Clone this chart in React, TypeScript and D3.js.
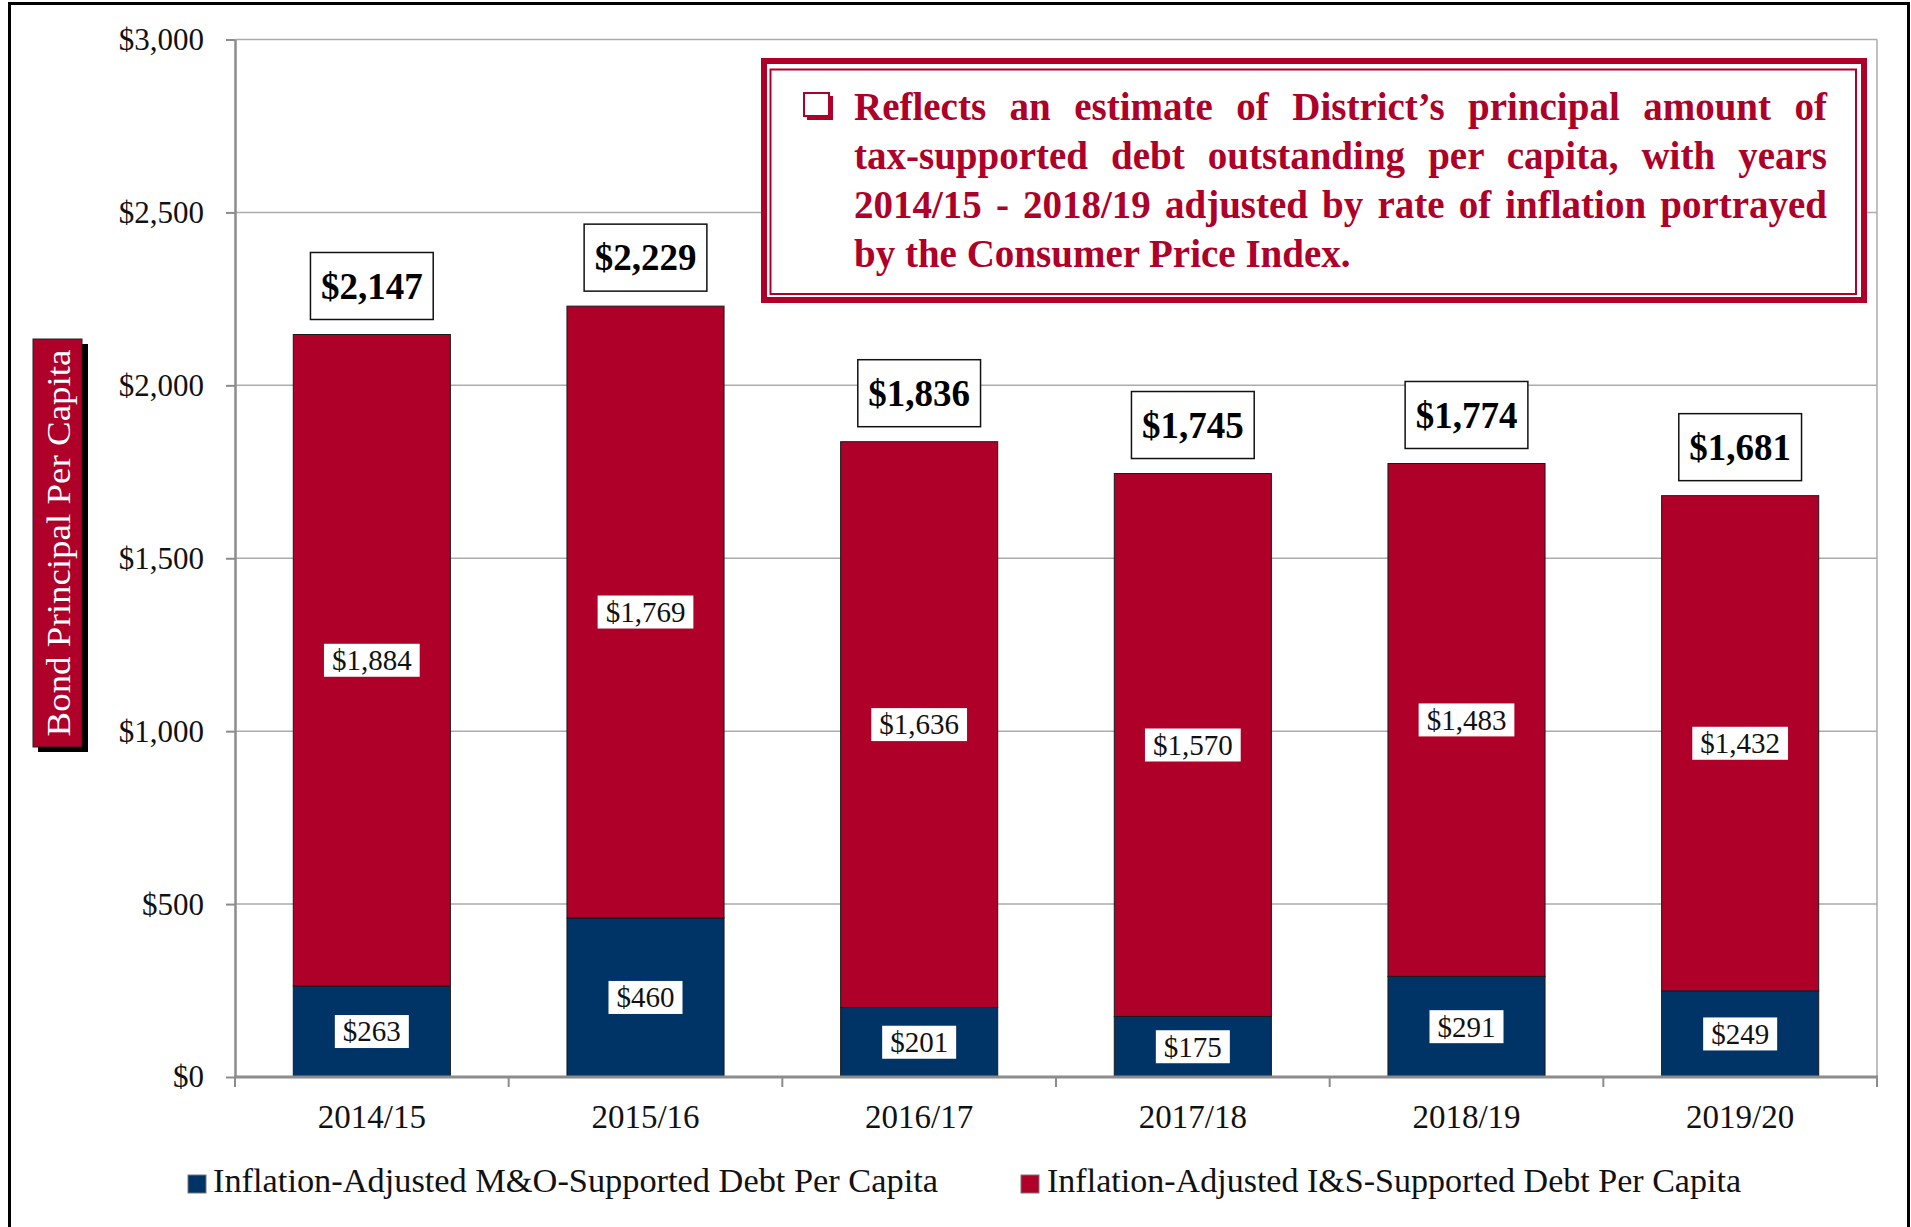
import { useRef, useEffect } from "react";
import { select, scaleBand, scaleLinear, axisLeft, axisBottom, format } from "d3";

const years = ["2014/15", "2015/16", "2016/17", "2017/18", "2018/19", "2019/20"];
const moDebt = [263, 460, 201, 175, 291, 249];
const isDebt = [1884, 1769, 1636, 1570, 1483, 1432];
const totals = [2147, 2229, 1836, 1745, 1774, 1681];
const yTicks = [0, 500, 1000, 1500, 2000, 2500, 3000];
const seriesNames = [
  "Inflation-Adjusted M&O-Supported Debt Per Capita",
  "Inflation-Adjusted I&S-Supported Debt Per Capita",
];
const noteLines = [
  "Reflects an estimate of District\u2019s principal amount of",
  "tax-supported debt outstanding per capita, with years",
  "2014/15 - 2018/19 adjusted by rate of inflation portrayed",
  "by the Consumer Price Index.",
];
const yTitle = "Bond Principal Per Capita";

const W = 1911;
const H = 1227;
const margin = { top: 39.5, right: 34, bottom: 150, left: 235 };
const X0 = margin.left;
const X1 = W - margin.right;
const Y0 = margin.top;
const Y1 = H - margin.bottom;

const RED = "#AE0028";
const NAVY = "#003366";
const AXIS = "#8c8c8c";
const GRID = "#ababab";
const FONT = "'Liberation Serif', 'Times New Roman', serif";

function App() {
  const svgRef = useRef<SVGSVGElement>(null);

  useEffect(() => {
    const svg = select(svgRef.current);
    svg.selectAll("*").remove();

    const x = scaleBand<string>().domain(years).range([X0, X1]).paddingInner(0.426).paddingOuter(0.213);
    const xEdge = scaleLinear().domain([0, years.length]).range([X0, X1]);
    const y = scaleLinear().domain([0, 3000]).range([Y1, Y0]);

    svg.append("rect").attr("width", W).attr("height", H).attr("fill", "#fff");

    // outer frame
    svg.append("rect")
      .attr("x", 9.5).attr("y", 3.5)
      .attr("width", 1899).attr("height", 1300)
      .attr("fill", "none").attr("stroke", "#000").attr("stroke-width", 3);

    // gridlines
    svg.append("g")
      .selectAll("line")
      .data(yTicks.filter(d => d > 0))
      .join("line")
      .attr("x1", X0).attr("x2", X1)
      .attr("y1", d => y(d)).attr("y2", d => y(d))
      .attr("stroke", GRID).attr("stroke-width", 1.5);
    svg.append("line")
      .attr("x1", X1).attr("x2", X1).attr("y1", Y0).attr("y2", Y1)
      .attr("stroke", GRID).attr("stroke-width", 1.5);

    // bars
    const bars = svg.append("g");
    bars.selectAll(".mo")
      .data(years)
      .join("rect")
      .attr("class", "mo")
      .attr("x", d => x(d)!)
      .attr("width", x.bandwidth())
      .attr("y", (_, i) => y(moDebt[i]))
      .attr("height", (_, i) => Y1 - y(moDebt[i]))
      .attr("fill", NAVY).attr("stroke", "#1a1a1a").attr("stroke-width", 1);
    bars.selectAll(".is")
      .data(years)
      .join("rect")
      .attr("class", "is")
      .attr("x", d => x(d)!)
      .attr("width", x.bandwidth())
      .attr("y", (_, i) => y(moDebt[i] + isDebt[i]))
      .attr("height", (_, i) => y(moDebt[i]) - y(moDebt[i] + isDebt[i]))
      .attr("fill", RED).attr("stroke", "#1a1a1a").attr("stroke-width", 1);

    // y axis
    const yAxis = axisLeft(y)
      .tickValues(yTicks)
      .tickFormat(d => "$" + format(",")(d as number))
      .tickSize(9)
      .tickSizeOuter(0)
      .tickPadding(22);
    const gy = svg.append("g").attr("transform", `translate(${X0},0)`).call(yAxis);
    gy.select(".domain").attr("stroke", AXIS).attr("stroke-width", 2.5);
    gy.selectAll(".tick line").attr("stroke", AXIS).attr("stroke-width", 2);
    gy.selectAll(".tick text")
      .attr("fill", "#111")
      .style("font-family", FONT)
      .style("font-size", "31px");

    // x axis
    svg.append("line")
      .attr("x1", X0 - 1).attr("x2", X1 + 1).attr("y1", Y1).attr("y2", Y1)
      .attr("stroke", AXIS).attr("stroke-width", 3);
    svg.append("g")
      .selectAll("line")
      .data(years.map((_, i) => i).concat([years.length]))
      .join("line")
      .attr("x1", d => xEdge(d)).attr("x2", d => xEdge(d))
      .attr("y1", Y1).attr("y2", Y1 + 10)
      .attr("stroke", AXIS).attr("stroke-width", 2);
    const gx = svg.append("g")
      .attr("transform", `translate(0,${Y1})`)
      .call(axisBottom(x).tickSize(0).tickPadding(28));
    gx.select(".domain").remove();
    gx.selectAll(".tick text")
      .attr("fill", "#111")
      .style("font-family", FONT)
      .style("font-size", "33px");

    // segment labels
    const segLabel = (cx: number, cy: number, txt: string) => {
      const g = svg.append("g");
      const rect = g.append("rect").attr("fill", "#fff");
      const t = g.append("text")
        .attr("x", cx).attr("y", cy).attr("dy", "0.34em")
        .attr("text-anchor", "middle")
        .attr("fill", "#111")
        .style("font-family", FONT)
        .style("font-size", "29px")
        .text(txt);
      const w = (t.node() as SVGTextElement).getComputedTextLength() + 16;
      rect.attr("x", cx - w / 2).attr("y", cy - 16.5).attr("width", w).attr("height", 33);
    };
    years.forEach((yr, i) => {
      const cx = x(yr)! + x.bandwidth() / 2;
      segLabel(cx, (y(0) + y(moDebt[i])) / 2, "$" + format(",")(moDebt[i]));
      segLabel(cx, (y(moDebt[i]) + y(moDebt[i] + isDebt[i])) / 2, "$" + format(",")(isDebt[i]));
    });

    // total labels
    years.forEach((yr, i) => {
      const cx = x(yr)! + x.bandwidth() / 2;
      const top = y(moDebt[i] + isDebt[i]);
      const bh = 67;
      const cy = top - 15 - bh / 2;
      const g = svg.append("g");
      const rect = g.append("rect").attr("fill", "#fff").attr("stroke", "#111").attr("stroke-width", 1.5);
      const t = g.append("text")
        .attr("x", cx).attr("y", cy).attr("dy", "0.34em")
        .attr("text-anchor", "middle")
        .attr("fill", "#000")
        .style("font-family", FONT)
        .style("font-size", "37px")
        .style("font-weight", "bold")
        .text("$" + format(",")(totals[i]));
      const w = (t.node() as SVGTextElement).getComputedTextLength() + 21;
      rect.attr("x", cx - w / 2).attr("y", cy - bh / 2).attr("width", w).attr("height", bh);
    });

    // note box
    const note = svg.append("g");
    note.append("rect")
      .attr("x", 764).attr("y", 61).attr("width", 1100).attr("height", 239)
      .attr("fill", "#fff").attr("stroke", RED).attr("stroke-width", 6);
    note.append("rect")
      .attr("x", 770.5).attr("y", 69.5).attr("width", 1085.5).attr("height", 224.5)
      .attr("fill", "none").attr("stroke", RED).attr("stroke-width", 2);
    note.append("rect")
      .attr("x", 807).attr("y", 96).attr("width", 26).attr("height", 24)
      .attr("fill", RED);
    note.append("rect")
      .attr("x", 804).attr("y", 93).attr("width", 25).attr("height", 23)
      .attr("fill", "#fff").attr("stroke", RED).attr("stroke-width", 2);
    const noteWidth = 973;
    note.selectAll(".line")
      .data(noteLines)
      .join("text")
      .attr("class", "line")
      .attr("x", 854)
      .attr("y", (_, i) => 120 + i * 49)
      .attr("fill", RED)
      .style("font-family", FONT)
      .style("font-size", "39px")
      .style("font-weight", "bold")
      .text(d => d)
      .each(function (d, i) {
        if (i === noteLines.length - 1) return;
        // justify by widening word gaps
        const el = this as SVGTextElement;
        const natural = el.getComputedTextLength();
        const gaps = d.split(" ").length - 1;
        const extra = (noteWidth - natural) / gaps;
        if (extra >= 0) select(el).style("word-spacing", `${extra}px`);
        else select(el).attr("textLength", noteWidth).attr("lengthAdjust", "spacingAndGlyphs");
      });

    // y title
    const yt = svg.append("g");
    yt.append("rect").attr("x", 38).attr("y", 344).attr("width", 50).attr("height", 408).attr("fill", "#000");
    yt.append("rect").attr("x", 33).attr("y", 339).attr("width", 49).attr("height", 408)
      .attr("fill", RED).attr("stroke", "#222").attr("stroke-width", 1);
    yt.append("text")
      .attr("transform", "translate(70,543) rotate(-90)")
      .attr("text-anchor", "middle")
      .attr("fill", "#fff")
      .attr("textLength", 387)
      .attr("lengthAdjust", "spacingAndGlyphs")
      .style("font-family", FONT)
      .style("font-size", "33px")
      .text(yTitle);

    // legend
    const legendPos = [
      { sx: 188, tx: 213, tw: 725 },
      { sx: 1021, tx: 1047, tw: 694 },
    ];
    const lg = svg.append("g");
    lg.selectAll("rect")
      .data(seriesNames)
      .join("rect")
      .attr("x", (_, i) => legendPos[i].sx)
      .attr("y", 1175)
      .attr("width", 18).attr("height", 18)
      .attr("fill", (_, i) => (i === 0 ? NAVY : RED))
      .attr("stroke", "#777").attr("stroke-width", 1);
    lg.selectAll("text")
      .data(seriesNames)
      .join("text")
      .attr("x", (_, i) => legendPos[i].tx)
      .attr("y", 1192)
      .attr("textLength", (_, i) => legendPos[i].tw)
      .attr("lengthAdjust", "spacingAndGlyphs")
      .attr("fill", "#111")
      .style("font-family", FONT)
      .style("font-size", "33px")
      .text(d => d);
  }, []);

  return (
    <svg
      ref={svgRef}
      width={W}
      height={H}
      style={{ position: "absolute", left: 0, top: 0, display: "block" }}
    />
  );
}

export default App;
